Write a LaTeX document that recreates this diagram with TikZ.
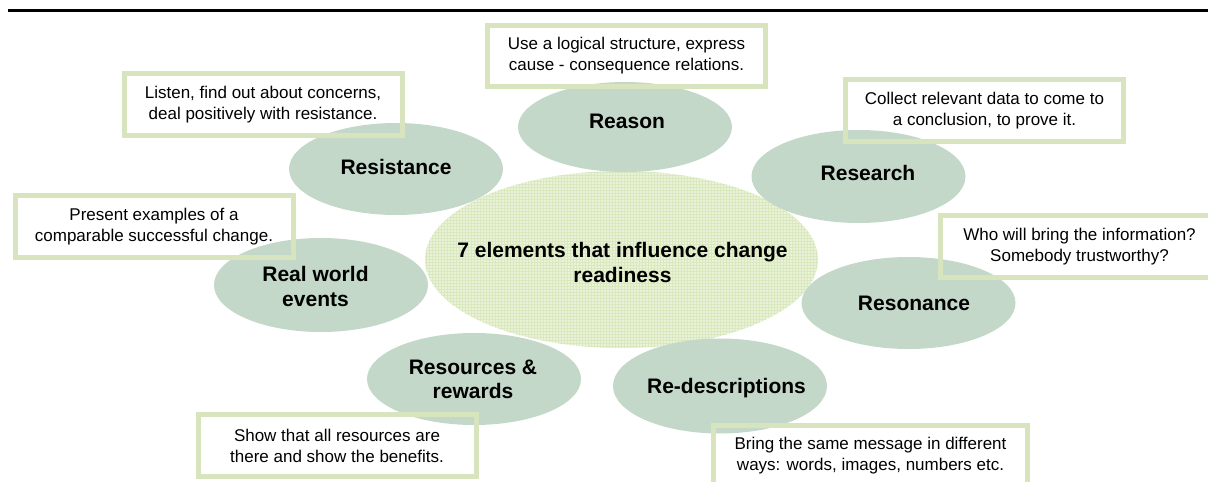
\documentclass[tikz,border=0pt]{standalone}
\usepackage{fontspec}
\setmainfont{Liberation Sans}
\usetikzlibrary{shapes.geometric}
\definecolor{blobfill}{RGB}{195,216,200}
\definecolor{corefill}{RGB}{234,243,217}
\definecolor{coregrid}{RGB}{218,232,190}
\definecolor{boxline}{RGB}{215,228,189}
\tikzset{
  blob/.style={ellipse, fill=blobfill, inner sep=0pt, minimum width=214pt, minimum height=92pt},
  core/.style={ellipse, inner sep=0pt, minimum width=393pt, minimum height=177pt, fill=corefill,
    path picture={\draw[coregrid, line width=0.4pt, step=3pt] (path picture bounding box.south west) grid (path picture bounding box.north east);}},
  lbl/.style={font=\fontsize{21}{24.5}\selectfont\bfseries, align=center, inner sep=0pt},
  note/.style={draw=boxline, line width=5pt, minimum width=278pt, minimum height=61.5pt, inner sep=0pt, align=center, font=\fontsize{17}{21}\selectfont},
}
\begin{document}
\begin{tikzpicture}[x=1pt,y=-1pt]
\useasboundingbox (0,0) rectangle (1208,482);
\clip (0,0) rectangle (1208,482);
% top rule
\coordinate (ruleL) at (8,10.5);
\coordinate (ruleR) at (1210,10.5);
\draw[line width=2.5pt] (ruleL) -- (ruleR);
% ellipses
\node[core] (core) at (621.5,259.5) {};
\node[blob, minimum height=90pt] (reason) at (625,127) {};
\node[blob] (resistance) at (396,169) {};
\node[blob, minimum height=93pt] (research) at (858.5,176.5) {};
\node[blob] (resonance) at (908.5,303) {};
\node[blob, minimum height=95pt] (redesc) at (720,386) {};
\node[blob] (resources) at (474,379) {};
\node[blob, minimum height=94pt] (realworld) at (321,285) {};
% labels
\node[lbl] (coreT) at (622.5,262.5) {7 elements that influence change\\readiness};
\node[lbl] (reasonT) at (627,121) {Reason};
\node[lbl] (resistanceT) at (396,167) {Resistance};
\node[lbl] (researchT) at (868,173) {Research};
\node[lbl] (resonanceT) at (914,303) {Resonance};
\node[lbl] (redescT) at (726.5,388) {Re-descriptions};
\node[lbl] (resourcesT) at (473,379.5) {Resources \&\\rewards};
\node[lbl] (realworldT) at (315.5,286.5) {Real world\\events};
% notes
\node[note] (n1) at (626.5,56) {Use a logical structure, express\\cause - consequence relations.};
\node[note] (n2) at (263,104.5) {Listen, find out about concerns,\\deal positively with resistance.};
\node[note] (n3) at (984.5,110.5) {Collect relevant data to come to\\a conclusion, to prove it.};
\node[note, minimum height=62pt] (n4) at (1079.5,246.5) {Who will bring the information?\\Somebody trustworthy?};
\node[note] (n5) at (154,226.5) {Present examples of a\\comparable successful change.};
\node[note] (n6) at (337,445.5) {Show that all resources are\\there and show the benefits.};
\node[note, minimum width=314pt] (n7) at (870.5,456) {Bring the same message in different\\ways: words, images, numbers etc.};
\end{tikzpicture}
\end{document}
